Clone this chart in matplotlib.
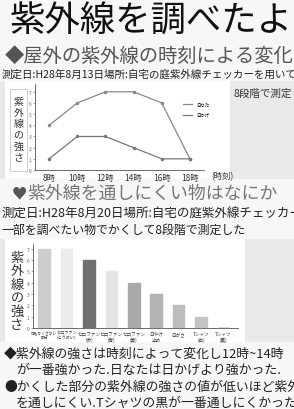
import matplotlib.pyplot as plt
from matplotlib.patches import Rectangle

plt.rcParams['font.family'] = ['Noto Sans CJK JP', 'DejaVu Sans']

# line chart data
times = ['8時', '10時', '12時', '14時', '16時', '18時']
sun = [4, 6, 7, 7, 6, 1]      # 日なた
shade = [1, 3, 3, 2, 1, 1]    # 日かげ

# bar chart data
items = ['何もかくさない\n部分', 'セロファン\n(とうめい)', 'セロファン\n(赤)', 'セロファン\n(青)',
         'セロファン\n(黄)', '日やけ\n止め', '日がさ', 'Tシャツ\n(白)', 'Tシャツ\n(黒)']
strength = [7, 7, 6, 5, 4, 3, 2, 1, 0]
bar_colors = ['#cdcdcd', '#ececec', '#707070', '#e4e4e4', '#a9a9a9',
              '#b4b4b4', '#bcbcbc', '#c4c4c4', '#444444']

W, H = 294, 410
fig = plt.figure(figsize=(W / 100, H / 100), dpi=100)
fig.patch.set_facecolor('#f7f7f7')


def box(x0, y0, x1, y1):
    # pixel box -> figure fraction [left, bottom, width, height]
    return [x0 / W, 1 - y1 / H, (x1 - x0) / W, (y1 - y0) / H]


def txt(x, y, s, size, color='#222222', **kw):
    fig.text(x / W, 1 - y / H, s, fontsize=size, color=color, va='center', ha='left', **kw)


def panel(x0, y0, x1, y1, fc):
    fig.patches.append(Rectangle((x0 / W, 1 - y1 / H), (x1 - x0) / W, (y1 - y0) / H,
                                 transform=fig.transFigure, facecolor=fc,
                                 edgecolor='none', zorder=-10))


# paper panels
panel(0, 82, W, 180, '#e9e9e9')
panel(5, 82, 230, 180, 'white')
panel(0, 240, W, 343, '#e9e9e9')
panel(5, 240, 245, 343, 'white')

# headings
txt(10, 22, '紫外線を調べたよ', 25.5, '#111111')
txt(5, 56, '◆屋外の紫外線の時刻による変化', 13.9, '#555555')
txt(2, 75, '測定日:H28年8月13日場所:自宅の庭紫外線チェッカーを用いて', 7.6, '#222222')
txt(233, 94, '8段階で測定', 7.6, '#333333')

# line chart
ax1 = fig.add_axes(box(35, 85, 204, 171))
ax1.set_facecolor('none')
x = range(len(times))
ax1.plot(x, sun, color='#888888', lw=0.9, marker='o', ms=1.5, label='日なた')
ax1.plot(x, shade, color='#777777', lw=0.9, marker='o', ms=1.5, label='日かげ')
ax1.set_xlim(-0.5, 5.5)
ax1.set_ylim(0, 7.7)
ax1.set_yticks(range(0, 8))
ax1.tick_params(axis='y', labelsize=3.5, length=1.5, width=0.4, colors='#666666', pad=1)
ax1.set_xticks(list(x))
ax1.set_xticklabels(times)
ax1.tick_params(axis='x', labelsize=6, length=0, colors='#333333', pad=2)
for s in ['top', 'right']:
    ax1.spines[s].set_visible(False)
for s in ['left', 'bottom']:
    ax1.spines[s].set_linewidth(0.6)
    ax1.spines[s].set_color('#555555')
ax1.legend(loc='upper left', bbox_to_anchor=(0.85, 0.84), fontsize=3.2, frameon=False,
           handlelength=2.2, labelspacing=1.2, markerscale=0)
txt(211, 177, '(時刻)', 6, '#333333')
fig.patches.append(Rectangle((10 / W, 1 - 172 / H), 17 / W, 82 / H, transform=fig.transFigure,
                             facecolor='none', edgecolor='#bbbbbb', lw=0.5))
fig.text(18.5 / W, 1 - 130 / H, '\n'.join('紫外線の強さ'), fontsize=7.2, color='#333333',
         ha='center', va='center', linespacing=1.15)

# second heading
txt(12, 194, '♥', 11, '#555555')
txt(27, 194, '紫外線を通しにくい物はなにか', 12.9, '#777777')
txt(2, 214, '測定日:H28年8月20日場所:自宅の庭紫外線チェッカーの', 9, '#222222')
txt(2, 230, '一部を調べたい物でかくして8段階で測定した', 8.6, '#222222')

# bar chart
ax2 = fig.add_axes(box(33, 245, 238, 329))
ax2.set_facecolor('none')
xb = range(len(items))
ax2.bar(xb, strength, width=0.52, color=bar_colors, edgecolor=bar_colors, linewidth=1)
ax2.set_xlim(-0.5, 8.65)
ax2.set_ylim(0, 7.4)
ax2.set_yticks(range(0, 8))
ax2.tick_params(axis='y', labelsize=3.5, length=1.5, width=0.4, colors='#666666', pad=1)
ax2.set_xticks(list(xb))
ax2.set_xticklabels(items, linespacing=1.1)
ax2.tick_params(axis='x', labelsize=3.3, length=0, colors='#333333', pad=2)
ax2.get_xticklabels()[0].set_fontsize(2.7)
ax2.get_xticklabels()[1].set_fontsize(3.0)
for s in ['top', 'right']:
    ax2.spines[s].set_visible(False)
for s in ['left', 'bottom']:
    ax2.spines[s].set_linewidth(0.6)
    ax2.spines[s].set_color('#555555')
fig.text(17 / W, 1 - 292 / H, '\n'.join('紫外線の強さ'), fontsize=9.5, color='#333333',
         ha='center', va='center', linespacing=1.05)

# conclusions
txt(4, 354, '◆紫外線の強さは時刻によって変化し12時~14時', 9.3, '#222222')
txt(16, 370, 'が一番強かった.日なたは日かげより強かった.', 9.3, '#222222')
txt(4, 387, '●かくした部分の紫外線の強さの値が低いほど紫外線', 9.3, '#222222')
txt(16, 403, 'を通しにくい.Tシャツの黒が一番通しにくかった。', 9.3, '#222222')

fig.savefig('out.png', dpi=100, facecolor=fig.get_facecolor())
